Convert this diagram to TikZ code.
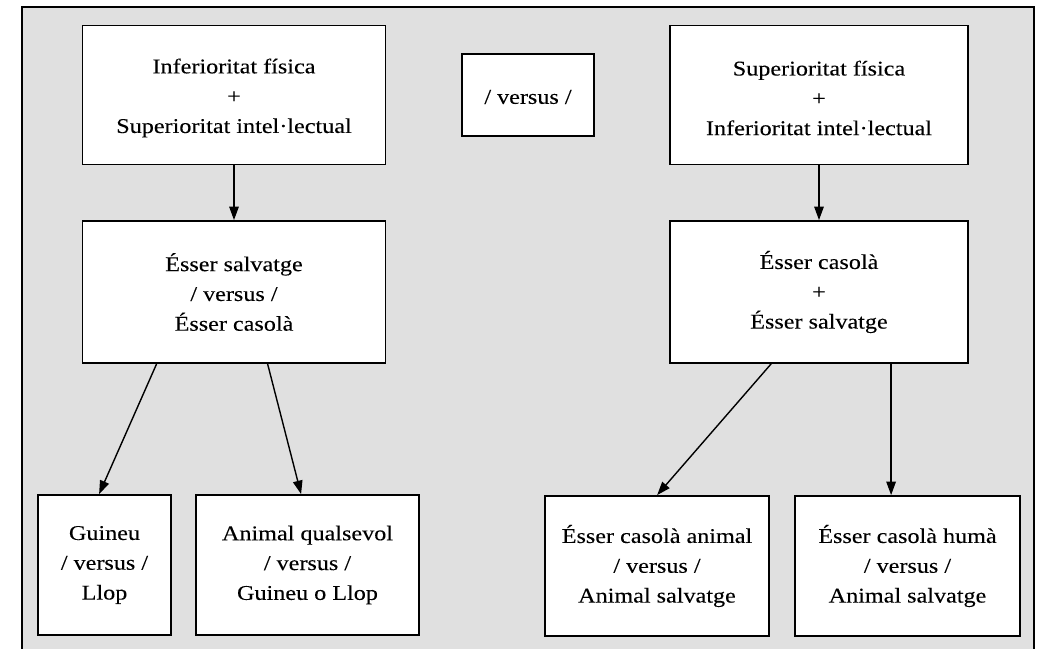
\documentclass[tikz,border=0pt]{standalone}
\usepackage{fontspec}
\setmainfont[FakeStretch=1.15,FakeBold=0.08]{Liberation Serif}
\usetikzlibrary{arrows.meta}
\definecolor{bggray}{RGB}{224,224,224}
\begin{document}
\begin{tikzpicture}[x=1pt,y=-1pt,
  box/.style={draw=black, line width=1.8pt, fill=white, inner sep=0pt},
  txt/.style={inner sep=0pt, align=center, font=\fontsize{21}{29.8}\selectfont},
  conn/.style={line width=1.4pt, -{Triangle[width=9.5pt,length=13.5pt]}}]
\path[use as bounding box] (0,0) rectangle (1040,648);
\begin{scope}
\clip (0,0) rectangle (1040,648);
\draw[fill=bggray, line width=1.5pt] (22,7) rectangle (1034,660);
\end{scope}
% top row
\node[box, minimum width=303pt, minimum height=139pt] (tl) at (234,95) {};
\node[txt] (tlt) at ([yshift=-3pt]tl.center) {Inferioritat física\\+\\Superioritat intel·lectual};
\node[box, minimum width=132pt, minimum height=82pt] (vs) at (528,95) {};
\node[txt] (vst) at ([yshift=-2pt]vs.center) {/ versus /};
\node[box, minimum width=298pt, minimum height=139pt] (tr) at (819,95) {};
\node[txt] (trt) at ([yshift=-3pt]tr.center) {Superioritat física\\+\\Inferioritat intel·lectual};
% middle row
\node[box, minimum width=303pt, minimum height=142pt] (ml) at (234,292) {};
\node[txt] (mlt) at (ml.center) {Ésser salvatge\\/ versus /\\Ésser casolà};
\node[box, minimum width=298pt, minimum height=142pt] (mr) at (819,292) {};
\node[txt] (mrt) at (mr.center) {Ésser casolà\\+\\Ésser salvatge};
% bottom row
\node[box, minimum width=133pt, minimum height=140pt] (b1) at (104.5,565) {};
\node[txt] (b1t) at (b1.center) {Guineu\\/ versus /\\Llop};
\node[box, minimum width=223pt, minimum height=140pt] (b2) at (307.5,565) {};
\node[txt] (b2t) at (b2.center) {Animal qualsevol\\/ versus /\\Guineu o Llop};
\node[box, minimum width=224pt, minimum height=140pt] (b3) at (657,566) {};
\node[txt] (b3t) at (b3.center) {Ésser casolà animal\\/ versus /\\Animal salvatge};
\node[box, minimum width=225pt, minimum height=140pt] (b4) at (907.5,566) {};
\node[txt] (b4t) at (b4.center) {Ésser casolà humà\\/ versus /\\Animal salvatge};
% connectors
\draw[conn] (tl.south) -- (ml.north);
\draw[conn] (tr.south) -- (mr.north);
\draw[conn] ([xshift=75pt]ml.south west) -- ([xshift=62pt]b1.north west);
\draw[conn] ([xshift=186pt]ml.south west) -- ([xshift=106pt]b2.north west);
\draw[conn] ([xshift=102pt]mr.south west) -- ([xshift=113pt]b3.north west);
\draw[conn] ([xshift=222pt]mr.south west) -- ([xshift=97pt]b4.north west);
\end{tikzpicture}
\end{document}
